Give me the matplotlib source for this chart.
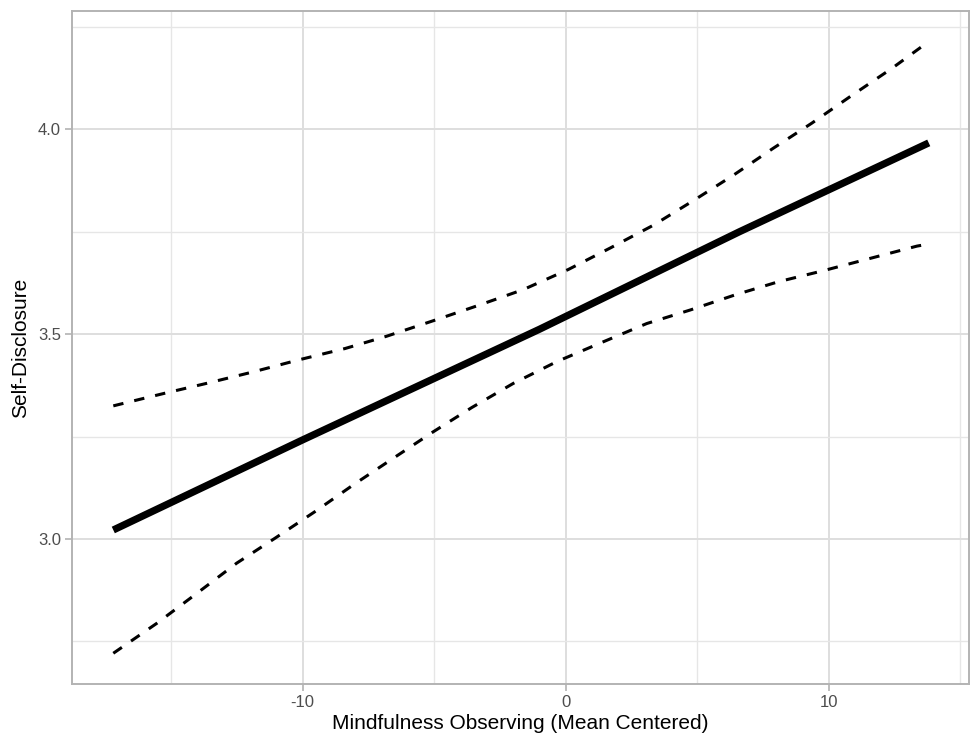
import matplotlib
matplotlib.use("Agg")
import matplotlib.pyplot as plt
from matplotlib.ticker import MultipleLocator

plt.rcParams['font.family'] = ['Liberation Sans', 'DejaVu Sans']
plt.rcParams['lines.scale_dashes'] = False

# fitted line
fit_x = [-17.2, -10.0, -1.0, 6.6, 13.8]
fit_y = [3.022, 3.242, 3.512, 3.750, 3.967]

# upper confidence band
upper_x = [-17.20, -16.19, -15.17, -13.65, -11.88, -10.17, -8.39, -6.81, -5.03,
           -3.38, -1.61, 0.10, 1.68, 3.33, 4.85, 6.37, 7.89, 9.35, 10.81,
           12.40, 13.79]
upper_y = [3.325, 3.341, 3.357, 3.380, 3.408, 3.437, 3.465, 3.495, 3.533,
           3.569, 3.609, 3.658, 3.710, 3.766, 3.826, 3.888, 3.954, 4.015, 4.080,
           4.149, 4.214]

# lower confidence band
lower_x = [-17.20, -15.55, -14.03, -12.51, -11.05, -9.53, -8.08, -6.56, -5.03,
           -3.57, -1.99, -0.34, 1.30, 3.08, 4.73, 6.44, 8.08, 9.79, 11.57,
           13.35, 13.79]
lower_y = [2.721, 2.794, 2.867, 2.941, 3.002, 3.067, 3.132, 3.197, 3.262,
           3.321, 3.380, 3.433, 3.478, 3.526, 3.559, 3.596, 3.628, 3.655, 3.685,
           3.715, 3.720]

fig = plt.figure(figsize=(9.71, 7.38), dpi=100)
ax = fig.add_axes([72 / 971, 1 - 684 / 738, 897 / 971, 673 / 738])

ax.plot(fit_x, fit_y, color='black', lw=5.2, solid_capstyle='butt', zorder=3)
ax.plot(upper_x, upper_y, color='black', lw=2.2, dashes=(7.5, 8.0), zorder=3)
ax.plot(lower_x, lower_y, color='black', lw=2.2, dashes=(7.5, 8.0), zorder=3)

ax.set_xlim(-18.77, 15.33)
ax.set_ylim(2.646, 4.289)

ax.xaxis.set_major_locator(MultipleLocator(10))
ax.xaxis.set_minor_locator(MultipleLocator(5))
ax.yaxis.set_major_locator(MultipleLocator(0.5))
ax.yaxis.set_minor_locator(MultipleLocator(0.25))
ax.set_yticks([3.0, 3.5, 4.0])
ax.set_yticklabels(['3.0', '3.5', '4.0'])
ax.set_xticks([-10, 0, 10])
ax.set_xticklabels(['-10', '0', '10'])

ax.grid(True, which='major', color='#DEDEDE', lw=1.4, zorder=0)
ax.grid(True, which='minor', color='#E6E6E6', lw=1.0, zorder=0)
ax.set_axisbelow(True)

for s in ax.spines.values():
    s.set_color('#B3B3B3')
    s.set_linewidth(1.4)

ax.tick_params(which='major', length=5, width=1.2, color='#B3B3B3',
               labelcolor='#4D4D4D', labelsize=12, pad=3)
ax.tick_params(which='minor', length=0)

ax.set_xlabel('Mindfulness Observing (Mean Centered)', fontsize=15, labelpad=3)
ax.set_ylabel('Self-Disclosure', fontsize=15, labelpad=6)

fig.savefig('out.png', dpi=100, facecolor='white')
